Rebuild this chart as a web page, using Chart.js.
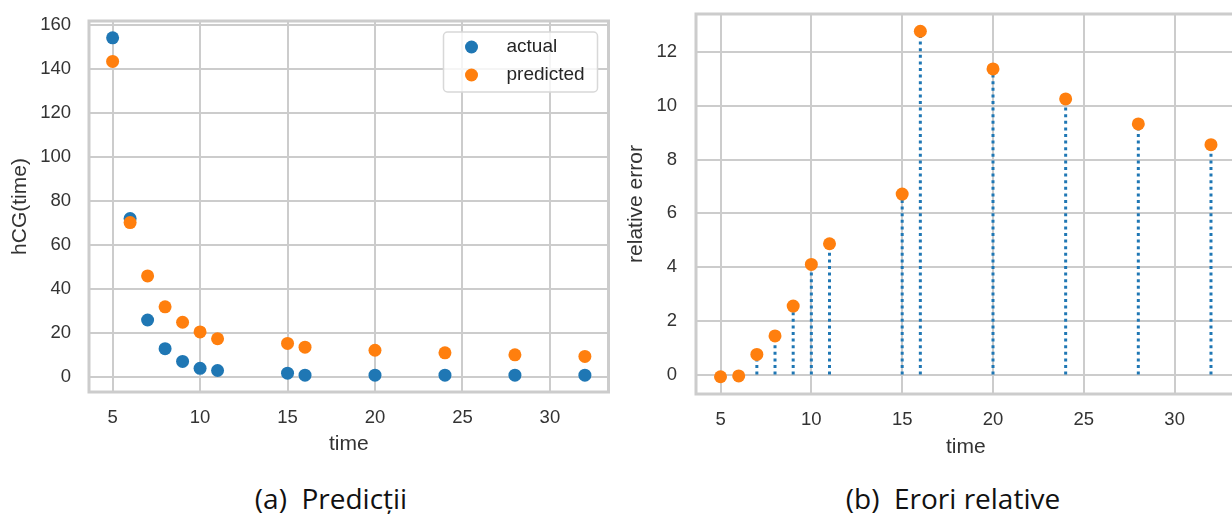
<!DOCTYPE html>
<html>
<head>
<meta charset="utf-8">
<script src="https://cdn.jsdelivr.net/npm/chart.js@4.4.1/dist/chart.umd.min.js"></script>
<style>
  html, body { margin: 0; padding: 0; background: #fff; width: 1232px; height: 514px; overflow: hidden; }
  #left { position: absolute; left: 0; top: 0; }
  #right { position: absolute; left: 620px; top: 0; }
  .caption { position: absolute; top: 480px; transform: translateX(-50%); font-family: "Open Sans", sans-serif;
             font-size: 28px; line-height: 36px; color: #111; white-space: pre; }
</style>
</head>
<body>
<canvas id="left" width="615" height="470"></canvas>
<canvas id="right" width="622" height="470"></canvas>
<div class="caption" style="left:331px">(a)  Predicții</div>
<div class="caption" style="left:953px">(b)  Erori relative</div>
<script>
// values
var times = [5, 6, 7, 8, 9, 10, 11, 15, 16, 20, 24, 28, 32];
var actual = [154, 72, 26, 13, 7.2, 4.1, 3.1, 1.9, 1, 1, 1, 1, 1];
var predicted = [143.3, 70.2, 46, 32, 25, 20.6, 17.5, 15.4, 13.7, 12.3, 11.1, 10.2, 9.5];
var relError = [-0.08, -0.05, 0.75, 1.44, 2.55, 4.1, 4.87, 6.72, 12.78, 11.38, 10.26, 9.33, 8.56];

var xTicks = [5, 10, 15, 20, 25, 30];
var yTicksLeft = [0, 20, 40, 60, 80, 100, 120, 140, 160];
var yTicksRight = [0, 2, 4, 6, 8, 10, 12];

var blue = '#1f77b4';
var orange = '#ff7f0e';
var gridColor = '#cccccc';
var textColor = '#333333';

Chart.defaults.font.family = '"Liberation Sans", Arial, sans-serif';
Chart.defaults.color = textColor;

// matplotlib style 5% margins
function padded(vals) {
  var lo = Math.min.apply(null, vals), hi = Math.max.apply(null, vals);
  var m = (hi - lo) * 0.05;
  return { min: lo - m, max: hi + m };
}

function fixedTicks(list) {
  return function (scale) {
    scale.ticks = list.map(function (v) { return { value: v }; });
  };
}

// grey frame round the plot area
var framePlugin = {
  id: 'frame',
  beforeDatasetsDraw: function (chart) {
    var a = chart.chartArea, ctx = chart.ctx;
    ctx.save();
    ctx.strokeStyle = gridColor;
    ctx.lineWidth = 3;
    ctx.strokeRect(a.left, a.top, a.right - a.left, a.bottom - a.top);
    ctx.restore();
  }
};

// legend with a box, top right inside the plot
var boxLegend = {
  id: 'boxLegend',
  afterDraw: function (chart) {
    var a = chart.chartArea, ctx = chart.ctx;
    var w = 154, h = 60;
    var x0 = a.right - 11 - w, y0 = a.top + 11;
    ctx.save();
    ctx.fillStyle = 'rgba(255,255,255,0.8)';
    ctx.strokeStyle = '#d8d8d8';
    ctx.lineWidth = 1.5;
    ctx.beginPath();
    ctx.roundRect(x0, y0, w, h, 4);
    ctx.fill();
    ctx.stroke();
    ctx.font = '19px "Liberation Sans", Arial, sans-serif';
    ctx.textBaseline = 'middle';
    chart.data.datasets.forEach(function (ds, i) {
      var y = y0 + 15 + i * 28;
      ctx.fillStyle = ds.backgroundColor;
      ctx.beginPath();
      ctx.arc(x0 + 28, y, 6.5, 0, Math.PI * 2);
      ctx.fill();
      ctx.fillStyle = '#262626';
      ctx.fillText(ds.label, x0 + 63, y);
    });
    ctx.restore();
  }
};

function noOverhang(s) {
  s.paddingTop = 0; s.paddingBottom = 0; s.paddingLeft = 0; s.paddingRight = 0;
}

function xAxis(height, titlePadBottom) {
  var r = padded(times);
  return {
    type: 'linear', position: 'bottom',
    min: r.min, max: r.max,
    afterBuildTicks: fixedTicks(xTicks),
    afterFit: function (s) { s.height = height; noOverhang(s); },
    grid: { color: gridColor, lineWidth: 2, drawTicks: false },
    border: { display: false },
    ticks: { font: { size: 18.5 }, color: textColor, padding: 15 },
    title: { display: true, text: 'time', font: { size: 21 }, color: textColor,
             padding: { top: 0, bottom: titlePadBottom } }
  };
}

function yAxis(vals, list, width, tickPad, title, titlePadTop) {
  var r = padded(vals);
  return {
    type: 'linear', position: 'left',
    min: r.min, max: r.max,
    afterBuildTicks: fixedTicks(list),
    afterFit: function (s) { s.width = width; noOverhang(s); },
    grid: { color: gridColor, lineWidth: 2, drawTicks: false },
    border: { display: false },
    ticks: { font: { size: 18.5 }, color: textColor, padding: tickPad },
    title: { display: true, text: title, font: { size: 21 }, color: textColor,
             padding: { top: titlePadTop, bottom: 0 } }
  };
}

var common = {
  responsive: false,
  devicePixelRatio: 1,
  animation: false,
  events: [],
  plugins: { legend: { display: false }, tooltip: { enabled: false } }
};

// (a) actual vs predicted
new Chart(document.getElementById('left'), {
  type: 'scatter',
  data: {
    datasets: [
      { label: 'actual', order: 1, backgroundColor: blue, borderWidth: 0, pointRadius: 6.5,
        data: times.map(function (t, i) { return { x: t, y: actual[i] }; }) },
      { label: 'predicted', order: 0, backgroundColor: orange, borderWidth: 0, pointRadius: 6.5,
        data: times.map(function (t, i) { return { x: t, y: predicted[i] }; }) }
    ]
  },
  options: Object.assign({}, common, {
    layout: { padding: { left: 0, top: 21, right: 4, bottom: 0 } },
    scales: {
      x: xAxis(78, 13),
      y: yAxis(actual.concat(predicted), yTicksLeft, 89, 18, 'hCG(time)', 8)
    }
  }),
  plugins: [framePlugin, boxLegend]
});

// (b) relative error as stems
var stems = [];
times.forEach(function (t, i) {
  stems.push({ x: t, y: 0 }, { x: t, y: relError[i] }, { x: t, y: null });
});

new Chart(document.getElementById('right'), {
  type: 'scatter',
  data: {
    datasets: [
      { label: 'relative error', order: 0, backgroundColor: orange, borderWidth: 0, pointRadius: 6.5,
        data: times.map(function (t, i) { return { x: t, y: relError[i] }; }) },
      { label: 'stem', order: 1, showLine: true, spanGaps: false, pointRadius: 0,
        borderColor: blue, borderWidth: 3, borderDash: [3, 3.6], borderCapStyle: 'butt',
        data: stems }
    ]
  },
  options: Object.assign({}, common, {
    layout: { padding: { left: 0, top: 14, right: 4, bottom: 0 } },
    scales: {
      x: xAxis(76, 10),
      y: yAxis(relError, yTicksRight, 76, 19, 'relative error', 4)
    }
  }),
  plugins: [framePlugin]
});
</script>
</body>
</html>
